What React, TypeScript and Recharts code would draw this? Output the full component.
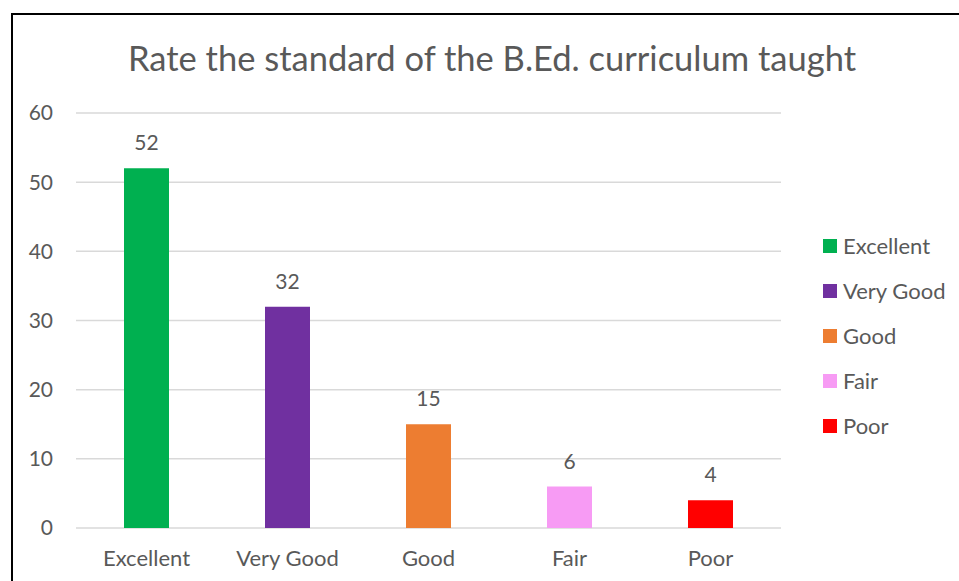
import { BarChart, Bar, XAxis, YAxis, CartesianGrid, Cell, LabelList } from "recharts";

const categories = ["Excellent", "Very Good", "Good", "Fair", "Poor"];
const counts = [52, 32, 15, 6, 4];
const colors = ["#00B050", "#7030A0", "#ED7D31", "#F79BF4", "#FF0000"];
const yTicks = [0, 10, 20, 30, 40, 50, 60];

const data = categories.map((name, i) => ({ name, value: counts[i] }));

const FONT = "Lato, 'Open Sans', sans-serif";
const TEXT = "#595959";

function LegendBox() {
  return (
    <div
      style={{
        position: "absolute",
        left: 823,
        top: 223,
        fontFamily: FONT,
        fontSize: 22,
        color: TEXT,
      }}
    >
      {categories.map((c, i) => (
        <div key={c} style={{ display: "flex", alignItems: "center", height: 45 }}>
          <span style={{ width: 14, height: 14, background: colors[i], marginRight: 6 }} />
          <span>{c}</span>
        </div>
      ))}
    </div>
  );
}

export default function App() {
  return (
    <div style={{ position: "absolute", left: 0, top: 0, width: 959, height: 581, overflow: "hidden", background: "#fff" }}>
      <div
        style={{
          position: "absolute",
          left: 11,
          top: 13,
          width: 1000,
          height: 700,
          borderTop: "2px solid #000",
          borderLeft: "2px solid #000",
        }}
      />
      <div
        style={{
          position: "absolute",
          left: 0,
          width: 984,
          top: 36,
          textAlign: "center",
          fontFamily: FONT,
          fontSize: 34.5,
          color: TEXT,
          lineHeight: "44px",
        }}
      >
        Rate the standard of the B.Ed. curriculum taught
      </div>
      <BarChart
        width={959}
        height={581}
        data={data}
        margin={{ top: 113, right: 178, bottom: 0, left: 0 }}
        style={{ position: "absolute", left: 0, top: 0 }}
      >
        <CartesianGrid vertical={false} stroke="#D9D9D9" strokeWidth={1.5} />
        <XAxis
          dataKey="name"
          height={53}
          axisLine={false}
          tickLine={false}
          tickMargin={16}
          tick={{ fill: TEXT, fontSize: 22, fontFamily: FONT }}
        />
        <YAxis
          width={76}
          domain={[0, 60]}
          ticks={yTicks}
          axisLine={false}
          tickLine={false}
          tickMargin={17}
          tick={{ fill: TEXT, fontSize: 21, fontFamily: FONT }}
        />
        <Bar dataKey="value" barSize={45} isAnimationActive={false}>
          {data.map((d, i) => (
            <Cell key={d.name} fill={colors[i]} />
          ))}
          <LabelList dataKey="value" position="top" offset={18} fill={TEXT} fontSize={21} fontFamily={FONT} />
        </Bar>
      </BarChart>
      <LegendBox />
    </div>
  );
}
